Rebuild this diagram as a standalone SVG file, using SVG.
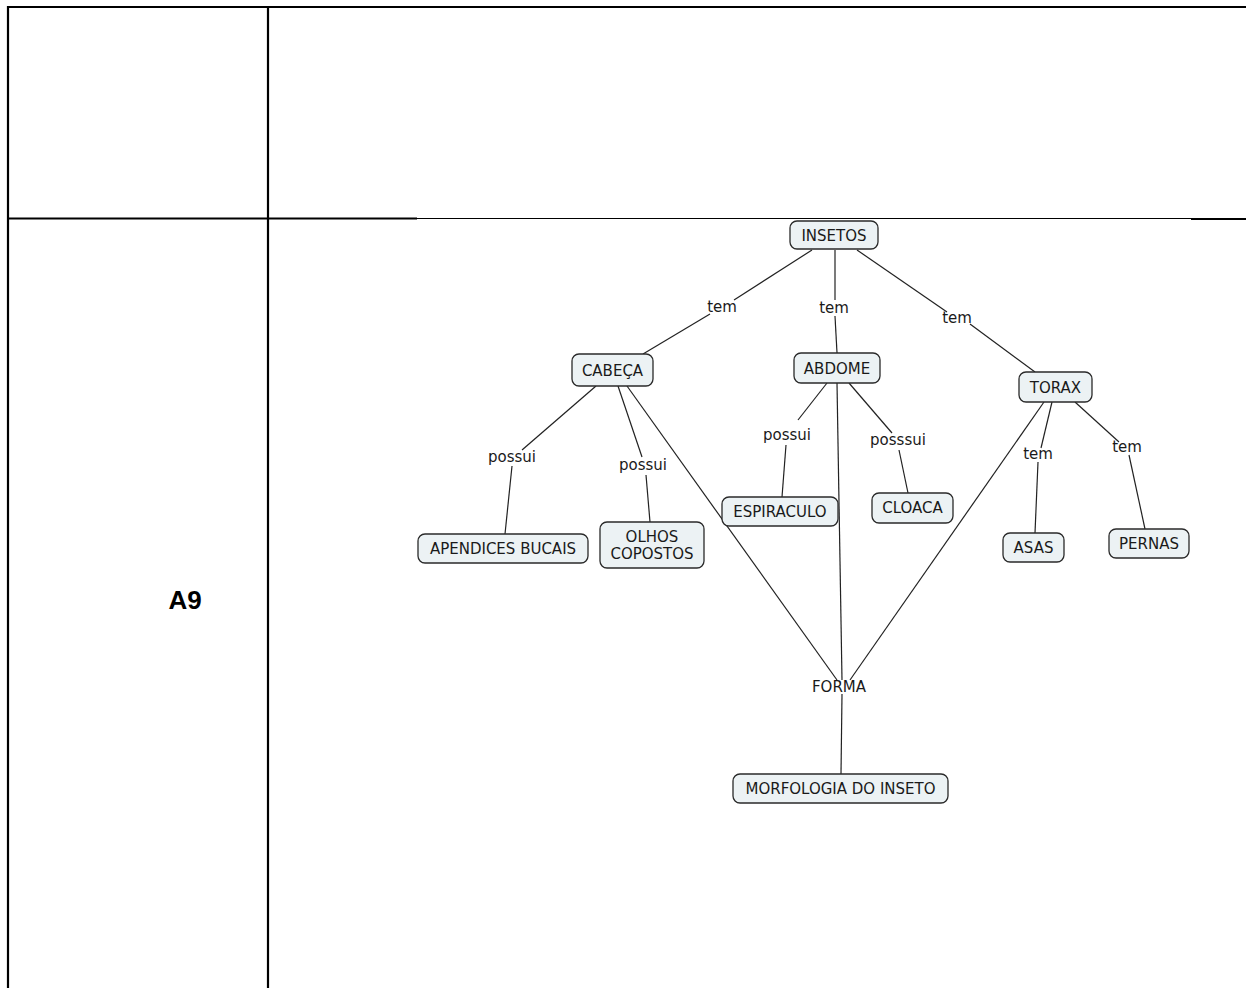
<svg xmlns="http://www.w3.org/2000/svg" width="1246" height="988" viewBox="0 0 1246 988">
  <style>
    .grid { stroke: #000; stroke-width: 2.2; fill: none; }
    .thin { stroke: #000; stroke-width: 1.2; fill: none; }
    .box { fill: #ecf2f4; stroke: #2a2a2a; stroke-width: 1.3; }
    .lbl { font-family: "DejaVu Sans", Verdana, sans-serif; font-size: 15px; fill: #1a1a1a; text-anchor: middle; }
    .link { stroke: #222; stroke-width: 1.2; fill: none; }
    .cell { font-family: "Liberation Sans", Arial, sans-serif; font-weight: bold; font-size: 26px; fill: #000; text-anchor: middle; }
  </style>
  <rect x="0" y="0" width="1246" height="988" fill="#fff"/>

  <!-- table rules -->
  <g id="table">
    <line class="grid" x1="8" y1="7" x2="1246" y2="7"/>
    <line class="grid" x1="8" y1="6" x2="8" y2="988"/>
    <line class="grid" x1="268" y1="6" x2="268" y2="988"/>
    <line class="grid" x1="8" y1="218.5" x2="417" y2="218.5"/>
    <line class="thin" x1="417" y1="218.5" x2="1191" y2="218.5"/>
    <line class="grid" x1="1191" y1="219" x2="1246" y2="219"/>
    <text class="cell" x="185" y="609">A9</text>
  </g>

  <!-- connectors and linking phrases -->
  <g id="connectors">
    <line class="link" x1="812" y1="250" x2="734" y2="300"/>
    <line class="link" x1="710" y1="314" x2="643" y2="354"/>
    <line class="link" x1="835" y1="250" x2="835" y2="300"/>
    <line class="link" x1="835" y1="316" x2="837" y2="353"/>
    <line class="link" x1="857" y1="250" x2="947" y2="312"/>
    <line class="link" x1="970" y1="324" x2="1035" y2="372"/>

    <line class="link" x1="596" y1="386" x2="522" y2="450"/>
    <line class="link" x1="512" y1="466" x2="505" y2="534"/>
    <line class="link" x1="618" y1="386" x2="642" y2="457"/>
    <line class="link" x1="646" y1="475" x2="650" y2="522"/>
    <line class="link" x1="627" y1="386" x2="837" y2="680"/>

    <line class="link" x1="827" y1="383" x2="798" y2="420"/>
    <line class="link" x1="786" y1="445" x2="782" y2="497"/>
    <line class="link" x1="837" y1="383" x2="842" y2="680"/>
    <line class="link" x1="849" y1="383" x2="892" y2="433"/>
    <line class="link" x1="899" y1="450" x2="908" y2="493"/>

    <line class="link" x1="1044" y1="402" x2="850" y2="680"/>
    <line class="link" x1="1052" y1="402" x2="1041" y2="448"/>
    <line class="link" x1="1038" y1="462" x2="1035" y2="533"/>
    <line class="link" x1="1075" y1="402" x2="1119" y2="442"/>
    <line class="link" x1="1129" y1="455" x2="1145" y2="529"/>

    <line class="link" x1="842" y1="694" x2="841" y2="774"/>

    <text class="lbl" x="722" y="312">tem</text>
    <text class="lbl" x="834" y="313">tem</text>
    <text class="lbl" x="957" y="323">tem</text>
    <text class="lbl" x="512" y="462">possui</text>
    <text class="lbl" x="643" y="470">possui</text>
    <text class="lbl" x="787" y="440">possui</text>
    <text class="lbl" x="898" y="445">posssui</text>
    <text class="lbl" x="1038" y="459">tem</text>
    <text class="lbl" x="1127" y="452">tem</text>
    <text class="lbl" x="839" y="692">FORMA</text>
  </g>

  <!-- concept nodes -->
  <g id="insetos">
    <rect class="box" x="790" y="221" width="88" height="28" rx="7"/>
    <text class="lbl" x="834" y="240.5">INSETOS</text>
  </g>
  <g id="cabeca">
    <rect class="box" x="572" y="354" width="81" height="32" rx="7"/>
    <text class="lbl" x="612.5" y="375.5">CABEÇA</text>
  </g>
  <g id="abdome">
    <rect class="box" x="794" y="353" width="86" height="30" rx="7"/>
    <text class="lbl" x="837" y="373.5">ABDOME</text>
  </g>
  <g id="torax">
    <rect class="box" x="1019" y="372" width="73" height="30" rx="7"/>
    <text class="lbl" x="1055.5" y="392.5">TORAX</text>
  </g>
  <g id="apendices">
    <rect class="box" x="418" y="534" width="170" height="29" rx="7"/>
    <text class="lbl" x="503" y="553.5">APENDICES BUCAIS</text>
  </g>
  <g id="olhos">
    <rect class="box" x="600" y="522" width="104" height="46" rx="7"/>
    <text class="lbl" x="652" y="542">OLHOS</text>
    <text class="lbl" x="652" y="558.5">COPOSTOS</text>
  </g>
  <g id="espiraculo">
    <rect class="box" x="722" y="497" width="116" height="29" rx="7"/>
    <text class="lbl" x="780" y="516.5">ESPIRACULO</text>
  </g>
  <g id="cloaca">
    <rect class="box" x="872" y="493" width="81" height="30" rx="7"/>
    <text class="lbl" x="912.5" y="513">CLOACA</text>
  </g>
  <g id="asas">
    <rect class="box" x="1003" y="533" width="61" height="29" rx="7"/>
    <text class="lbl" x="1033.5" y="552.5">ASAS</text>
  </g>
  <g id="pernas">
    <rect class="box" x="1109" y="529" width="80" height="29" rx="7"/>
    <text class="lbl" x="1149" y="548.5">PERNAS</text>
  </g>
  <g id="morfologia">
    <rect class="box" x="733" y="774" width="215" height="29" rx="7"/>
    <text class="lbl" x="840.5" y="793.5">MORFOLOGIA DO INSETO</text>
  </g>
</svg>
